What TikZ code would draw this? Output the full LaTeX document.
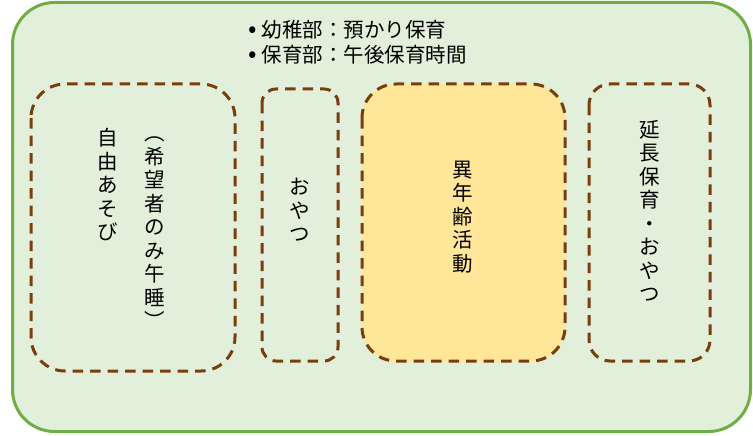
\documentclass[tikz,border=0pt]{standalone}
\usepackage{fontspec}
\setmainfont{Noto Sans CJK JP}
\definecolor{outerfill}{HTML}{E2EFDA}
\definecolor{outerline}{HTML}{70AD47}
\definecolor{dashbrown}{HTML}{7A3E0C}
\definecolor{hlfill}{HTML}{FFE699}
\newcommand\mybul{{\fontsize{25}{25}\selectfont•}\hspace{5pt}}
\begin{document}
\begin{tikzpicture}[x=1pt,y=-1pt,
  outerbox/.style={draw=outerline, fill=outerfill, line width=3pt, rounded corners=42pt},
  dashbox/.style={draw=dashbrown, line width=3pt, dash pattern=on 10.5pt off 7pt},
  vtext/.style={align=center, inner sep=0pt, font=\fontsize{20.5}{23.5}\selectfont},
  htext/.style={align=left, inner sep=0pt, anchor=west, font=\fontsize{20.5}{25}\selectfont}]
\useasboundingbox (0,0) rectangle (753,436);
\draw[outerbox] (12.5,2.5) rectangle (750.5,431.5);
\node[htext] (head) at (248,42.5) {\mybul 幼稚部：預かり保育\\\mybul 保育部：午後保育時間};
% dashed boxes
\draw[dashbox, rounded corners=34pt] (31,84) rectangle (235,371);
\draw[dashbox, rounded corners=14pt] (262,89) rectangle (338,361);
\draw[dashbox, fill=hlfill, rounded corners=34pt] (362,84) rectangle (565,361);
\draw[dashbox, rounded corners=21pt] (589,84) rectangle (710,361);
% vertical texts
\node[vtext] (free) at (108,185) {自\\由\\あ\\そ\\び};
\node[vtext] (nap) at (155,233) {︵\\希\\望\\者\\の\\み\\午\\睡\\︶};
\node[vtext] (snack) at (300,210) {お\\や\\つ};
\node[vtext] (mixed) at (463,217) {異\\年\\齢\\活\\動};
\node[vtext] (ext) at (650,211) {延\\長\\保\\育\\・\\お\\や\\つ};
\end{tikzpicture}
\end{document}
